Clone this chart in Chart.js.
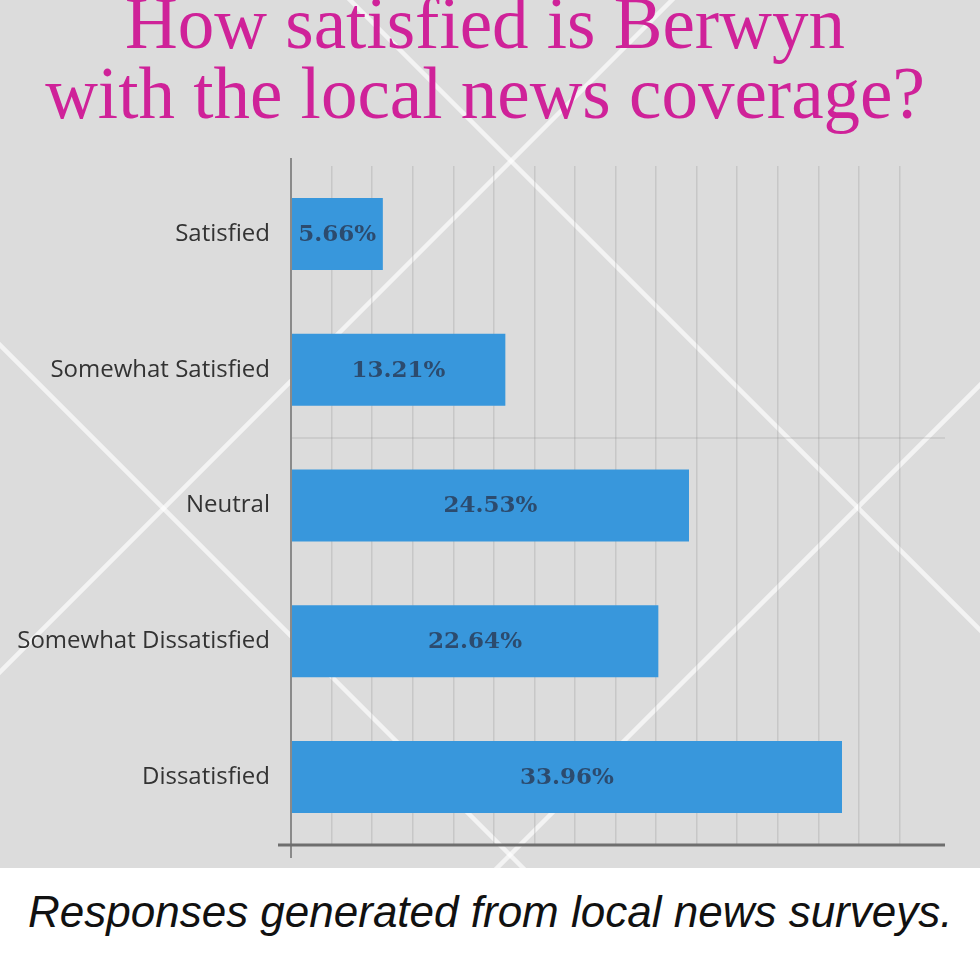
<!DOCTYPE html>
<html>
<head>
<meta charset="utf-8">
<script src="https://cdn.jsdelivr.net/npm/chart.js@4/dist/chart.umd.min.js"></script>
<style>
  html, body { margin: 0; padding: 0; background: #fff; }
  #wrap { position: relative; width: 980px; height: 955px; overflow: hidden; }
  #panel { position: absolute; left: 0; top: 0; width: 980px; height: 868px; background: #dcdcdc; }
  #title {
    position: absolute; left: 0; top: -11px; width: 970px; text-align: center;
    font-family: "Liberation Serif", serif; font-size: 73px; line-height: 70px;
    color: #cf2299; white-space: nowrap;
  }
  #caption {
    position: absolute; left: 28px; top: 890px;
    font-family: "Liberation Sans", Arial, sans-serif; font-style: italic;
    font-size: 44px; line-height: 44px; color: #111; white-space: nowrap;
  }
</style>
</head>
<body>
<div id="wrap">
  <div id="panel"><canvas id="myChart" width="980" height="868"></canvas></div>
  <div id="title"></div>
  <div id="caption">Responses generated from local news surveys.</div>
</div>
<script>
// Datos de la encuesta
var categories = ['Satisfied', 'Somewhat Satisfied', 'Neutral', 'Somewhat Dissatisfied', 'Dissatisfied'];
var percents = [5.66, 13.21, 24.53, 22.64, 33.96];
var valueLabels = ['5.66%', '13.21%', '24.53%', '22.64%', '33.96%'];
var titleLines = ['How satisfied is Berwyn', 'with the local news coverage?'];

// Título en HTML, una línea por elemento
var titleEl = document.getElementById('title');
titleLines.forEach(function(line) {
  var d = document.createElement('div');
  d.textContent = line;
  titleEl.appendChild(d);
});

// Fondo: diagonales blancas y línea horizontal tenue
var backdrop = {
  id: 'backdrop',
  beforeDraw: function(chart) {
    var c = chart.ctx;
    c.save();
    c.strokeStyle = 'rgba(255,255,255,0.65)';
    c.lineWidth = 4.5;
    // lineas x+y=k y x-y=k
    [672, 1365].forEach(function(k) {
      c.beginPath(); c.moveTo(k + 50, -50); c.lineTo(k - 1000, 1000); c.stroke();
    });
    [350, -345].forEach(function(k) {
      c.beginPath(); c.moveTo(k - 50, -50); c.lineTo(k + 1000, 1000); c.stroke();
    });
    c.restore();
  },
  beforeDatasetsDraw: function(chart) {
    var c = chart.ctx, a = chart.chartArea;
    c.save();
    c.strokeStyle = 'rgba(150,150,150,0.3)';
    c.lineWidth = 1.5;
    c.beginPath(); c.moveTo(a.left, 438); c.lineTo(a.right + 5, 438); c.stroke();
    c.restore();
  }
};

// Ejes y etiquetas dentro de las barras
var axesAndLabels = {
  id: 'axesAndLabels',
  afterDatasetsDraw: function(chart) {
    var c = chart.ctx, a = chart.chartArea;
    c.save();
    c.strokeStyle = '#8a8a8a';
    c.lineWidth = 2;
    c.beginPath(); c.moveTo(a.left, a.top - 8); c.lineTo(a.left, a.bottom + 13); c.stroke();
    c.strokeStyle = '#6e6e6e';
    c.lineWidth = 3;
    c.beginPath(); c.moveTo(a.left - 13, a.bottom); c.lineTo(a.right + 5, a.bottom); c.stroke();

    var meta = chart.getDatasetMeta(0);
    c.fillStyle = '#2c4b6e';
    c.font = 'bold 23px "DejaVu Serif", serif';
    c.textAlign = 'center';
    c.textBaseline = 'middle';
    meta.data.forEach(function(bar, i) {
      c.fillText(valueLabels[i], (bar.x + bar.base) / 2, bar.y + 1);
    });
    c.restore();
  }
};

var ctx = document.getElementById('myChart').getContext('2d');
var chart = new Chart(ctx, {
  type: 'bar',
  data: {
    labels: categories,
    datasets: [{
      data: percents,
      backgroundColor: '#3897dc',
      borderWidth: 0,
      categoryPercentage: 1,
      barPercentage: 0.53
    }]
  },
  options: {
    indexAxis: 'y',
    responsive: false,
    animation: false,
    layout: { padding: { left: 0, right: 40, top: 166, bottom: 23 } },
    plugins: {
      legend: { display: false },
      tooltip: { enabled: false },
      title: { display: false }
    },
    scales: {
      x: {
        min: 0,
        max: 40,
        ticks: { display: false, stepSize: 2.5 },
        border: { display: false },
        grid: {
          drawTicks: false,
          lineWidth: 1.5,
          color: function(c) {
            var v = c.tick ? c.tick.value : 0;
            return (v === 0 || v === 40) ? 'rgba(0,0,0,0)' : 'rgba(140,140,140,0.26)';
          }
        }
      },
      y: {
        border: { display: false },
        grid: { display: false, drawTicks: false },
        afterFit: function(scale) {
          scale.width = 291;
          scale.paddingTop = 0;
          scale.paddingBottom = 0;
        },
        ticks: {
          padding: 21,
          color: '#333',
          font: { family: '"Open Sans", sans-serif', size: 24 }
        }
      }
    }
  },
  plugins: [backdrop, axesAndLabels]
});
</script>
</body>
</html>
